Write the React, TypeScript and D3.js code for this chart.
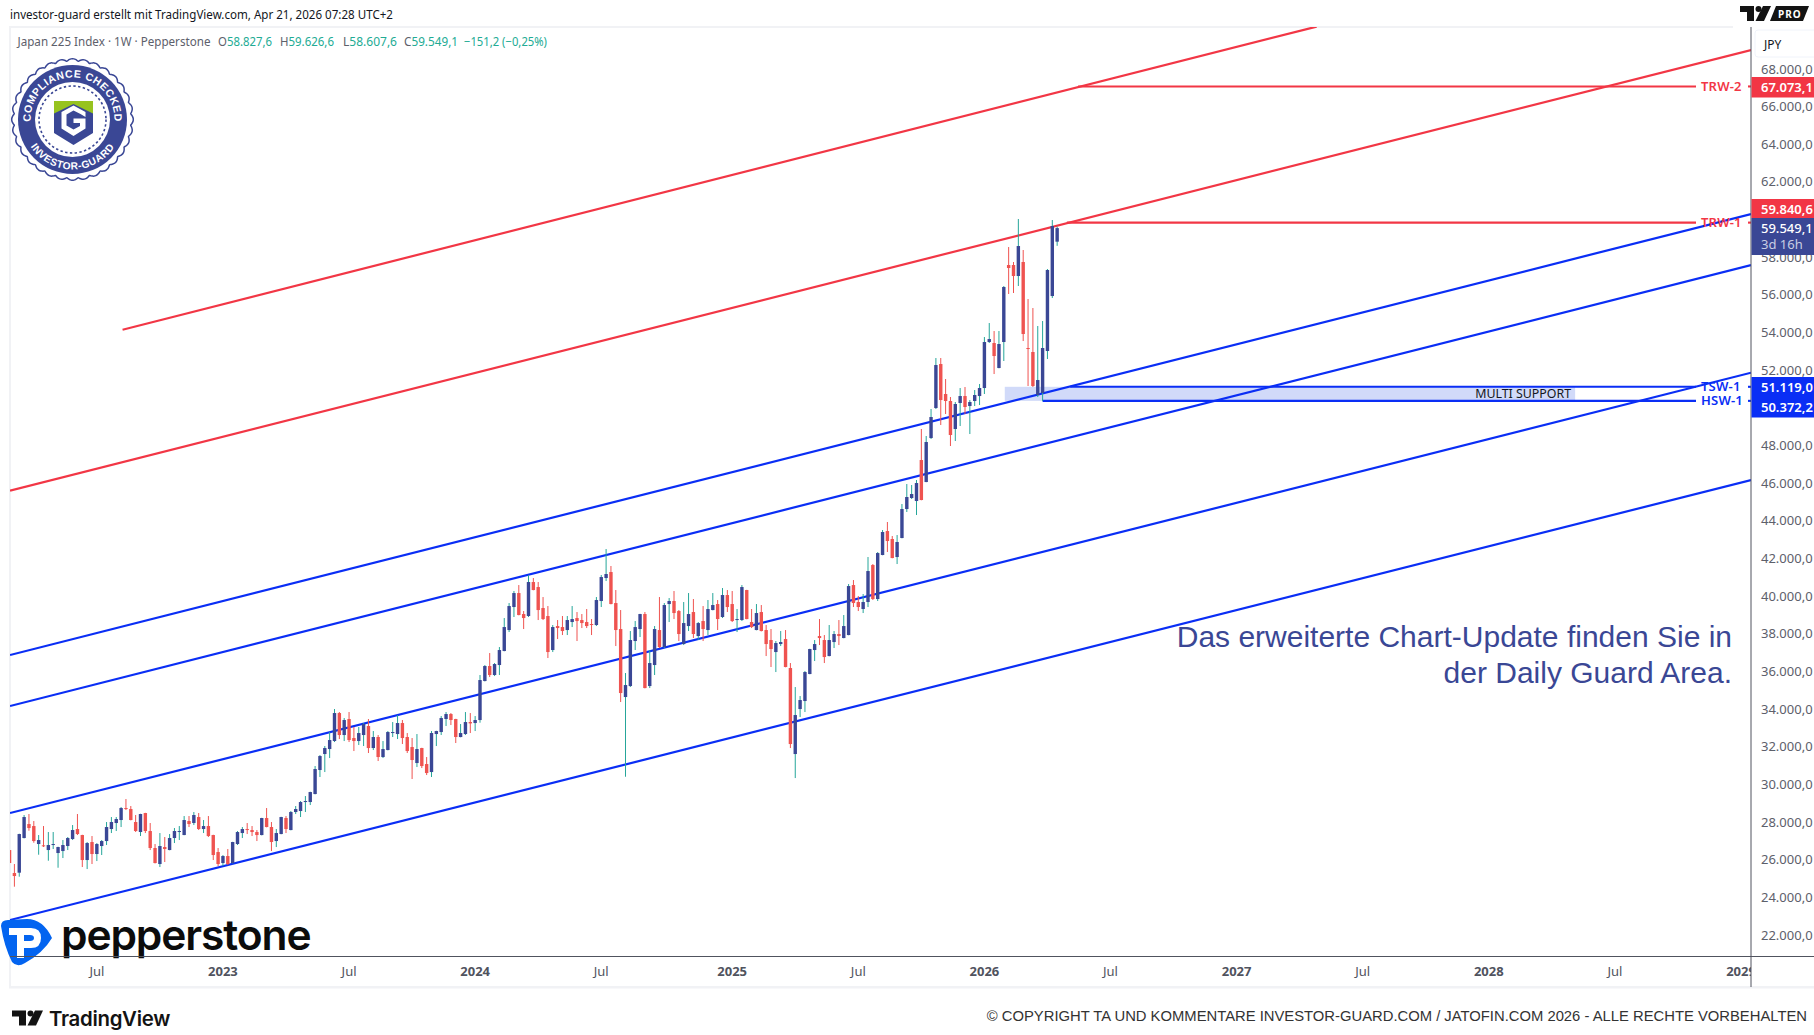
import React from "react";
import * as d3 from "d3";

// ---------- DATA (weekly OHLC, JPY; first bar sits at index -1 and is cut by the pane edge) ----------
const firstBarIndex = -1;
const opens = [26513,
  25292,25310,27151,27894,27788,26832,26763,26513,26779,26354,
  26460,26726,27098,27629,27310,25982,26938,26301,26726,26991,
  27629,27948,28107,28744,28691,28001,27470,28479,27523,26620,
  25770,26673,26513,27151,27470,27310,28054,27948,28266,27629,
  27788,27310,26407,25822,26194,25822,26832,27416,27628,27575,
  27469,27310,28213,27735,26991,27363,28213,27575,28532,28585,
  29063,29063,29488,30763,31612,31878,32303,33790,32622,33472,
  32462,32303,32622,33100,31931,32516,31453,31825,32728,32675,
  33259,32516,31984,31134,31931,31082,30656,32675,32781,33472,
  33737,33472,32515,32675,33312,33259,33418,35490,36287,35809,
  36340,37084,38199,39421,40164,39049,38943,40749,40483,39368,
  38943,37137,38411,38358,38199,38624,38836,38730,38624,38518,
  38465,39740,40961,41280,39633,38252,34640,35224,37615,38252,
  39049,35224,36340,38199,37296,39580,39740,39208,37455,38411,
  39155,37880,38677,38199,39261,39580,38890,40058,39580,38730,
  38730,40324,38624,38199,39155,38199,37668,37030,37455,37721,
  36181,31612,34003,34428,35862,37137,37880,37668,36818,37561,
  37987,37774,37933,40589,39687,39315,39687,41652,39846,42184,
  43458,43034,42077,43087,44627,45211,45052,47230,46061,48398,
  49992,52329,50736,50364,48876,50258,50629,50098,50364,50629,
  51054,53498,53445,52117,53498,57588,57588,57004,57748,53179,
  52967,50683,50789,53020,55941,58827.6];
const closes = [25823,
  25132,27363,28266,27682,26991,27045,26726,26779,26832,26673,
  26779,27151,27576,27363,25982,26885,26301,26832,26991,27735,
  28001,28160,28744,28691,28107,27523,28426,27523,26620,25823,
  26726,26567,27151,27523,27523,28107,27894,28373,27629,27788,
  27257,26248,25770,26194,25769,26938,27469,27628,27575,27469,
  27310,28213,27735,26938,27416,28266,27628,28532,28691,29063,
  29116,29594,30816,31506,31931,32356,33790,32622,33419,32356,
  32303,32728,33206,31931,32516,31453,31878,32781,32781,33259,
  32462,31772,31294,31878,30975,30603,32728,32834,33525,33737,
  33419,32516,32728,33312,33240,33419,35543,36287,35809,36393,
  37137,38358,39474,40164,38996,38836,40749,40324,39261,38783,
  37030,38358,38305,38146,38730,38783,38677,38570,38411,38465,
  39793,41014,41174,39580,38199,34852,35277,37668,38358,39049,
  35118,36446,38252,37296,39527,39740,39102,37987,38570,39049,
  37987,38570,38252,39315,39527,38783,40058,39421,38677,38783,
  40483,38783,38358,39102,38146,37455,37190,37508,37561,36234,
  32143,33684,34481,35968,37190,37455,37774,36765,37668,37987,
  37880,38411,40536,39633,39421,39687,41333,39846,42289,43405,
  42927,42024,42874,44627,45265,45424,46008,45105,48186,49514,
  52276,50417,50364,48558,50205,50629,50045,50311,50683,51054,
  53498,53657,52754,53392,56420,57429,57004,58597,53923,53126,
  51161,51479,53179,57323,59660,59549.1];
const highs = [26513,
  25770,27380,28373,28426,28054,27310,27788,27470,27470,26690,
  27045,27204,27841,28426,27325,26938,27257,26885,27045,28001,
  28266,28266,28798,29223,28851,28373,28440,28490,27948,26832,
  27416,27204,27363,27682,27788,28319,28319,28532,28479,28107,
  28319,27325,26620,26247,26566,26950,27522,27735,27947,27788,
  27575,28225,28744,28000,27628,28280,28319,28585,28850,29116,
  29381,29610,30975,31559,32037,32781,34003,33844,33525,33844,
  33047,33047,33259,33472,32834,32622,32303,32834,33312,33684,
  33419,32728,32462,32675,31945,31453,32834,32850,33631,33844,
  33790,33485,33206,33843,33790,33631,35809,36340,36977,36446,
  37296,38836,39633,40271,40589,39208,41121,40961,40749,39952,
  39474,38465,38730,38943,38943,39474,39155,39049,39315,38783,
  39952,41121,42502,41599,40324,39261,35915,38146,38677,39060,
  39155,37137,38411,39952,39633,39899,40271,39261,39687,40164,
  39846,38624,39474,39793,40164,39793,40430,40324,40271,39315,
  40589,40335,39315,39580,39527,38465,38252,37615,38146,38199,
  36446,35171,34693,36021,37205,37668,38783,37933,38465,38146,
  38730,38996,40643,40855,40005,40111,42077,41705,42343,43512,
  43937,43193,43246,44893,45955,45902,46168,48877,48505,49939,
  52648,52648,51533,50576,50311,51054,51107,50417,50948,51267,
  53763,54507,54082,54082,56473,58544,57748,60032,58385,55782,
  55304,54348,54613,57376,59979,59626.6];
const lows = [25823,
  24566,25096,27130,27539,26901,26264,26673,25945,26567,25573,
  26088,26513,27045,27310,25610,25504,25770,25929,26248,26779,
  27416,27523,27735,28638,28090,27470,27257,27416,26513,25800,
  25610,25876,26500,26885,27045,27300,27735,27841,27576,27416,
  27204,25982,25663,25663,25716,25800,26779,27150,27363,27257,
  26991,27290,27720,26460,26672,27350,27416,27560,28425,28266,
  28532,28903,29470,30391,30656,31400,32250,32409,32303,32250,
  31772,32091,32037,31666,31825,31241,31400,31810,32516,32409,
  32144,31666,30285,30922,30869,30497,30391,32037,32622,33100,
  33153,32197,32500,32622,32728,32834,33277,35470,35702,35755,
  35809,37070,38093,38890,38980,38252,38890,40310,38730,38730,
  36712,37030,37721,37933,37933,38358,37615,38305,38305,37933,
  38411,39421,40802,39565,37349,34374,30406,35171,37137,37827,
  35100,35118,35809,37243,37243,38624,38783,37615,37402,38146,
  37775,37668,37615,37933,39245,38199,38836,39155,38624,38093,
  38677,38770,38305,38185,38125,36818,36234,35968,37349,36220,
  31931,30337,33578,33843,35850,36552,37402,36446,36800,37243,
  37402,37760,37920,39421,39208,39102,39421,39793,39740,42170,
  42343,42010,41705,43070,44468,45158,44308,45090,46050,48345,
  49939,49089,49673,47973,48239,49036,49673,48611,50098,50151,
  50736,53445,51798,52100,52489,56048,56101,56473,53551,51161,
  51107,50576,50364,52595,55835,58607.6];

// trend channels: [barIndex, price] end points
const redChannels: [number, number, number, number][] = [
  [22.3, 54151, 268.5, 70252],
  [-0.9, 45604, 358.06, 69009],
];
const blueChannels: [number, number, number, number][] = [
  [-0.9, 36871, 358.06, 60297],
  [-0.9, 34162, 358.06, 57588],
  [-0.9, 28479, 358.06, 51867],
  [-0.9, 22795, 358.06, 46167],
];
const levelNames = ["TRW-2", "TRW-1", "TSW-1", "HSW-1"];
const levelPrices = [67073.1, 59840.6, 51119.0, 50372.2];
const levelStarts = [219.3, 217, 217.7, 212];
const levelColors = ["#f23645", "#f23645", "#0a2ef5", "#0a2ef5"];

const supportZone = { from: 204.2, to: 321.8, hi: 51119.0, lo: 50372.2 };

// 60.000 and 50.000 lie wholly under the price tags in the reference
const priceTicks = d3.range(22000, 68001, 2000).filter((v) => v !== 60000 && v !== 50000);
const timeLabels = ["Jul","2023","Jul","2024","Jul","2025","Jul","2026","Jul","2027","Jul","2028","Jul","2029"];
const timeIdx = [17,43,69,95,121,148,174,200,226,252,278,304,330,356];

// ---------- LAYOUT ----------
const W = 1814, H = 1035;
const L = 10, R = 1751, T = 27, B = 956.5;
const x = d3.scaleLinear().domain([0, 358]).range([14.4, 14.4 + 358 * 4.85]);
const y = d3.scaleLinear().domain([22000, 68000]).range([935, 69]);

const UI = "'Noto Sans', sans-serif";
const ARIAL = "'Liberation Sans', Arial, sans-serif";
const NAVY = "#3a4795";
const TEAL = "#26a69a";
const RED = "#ef5350";
const fmt = (v: number) => d3.format(",.1f")(v).replace(/,/g, "#").replace(".", ",").replace(/#/g, ".");

const channelLine = d3.line<[number, number]>().x((d) => x(d[0])).y((d) => y(d[1]));

const polar = (r: number, deg: number) => {
  const a = (deg * Math.PI) / 180;
  return `${(r * Math.sin(a)).toFixed(2)} ${(-r * Math.cos(a)).toFixed(2)}`;
};

function Badge() {
  const cx = 72.5, cy = 119.5;
  const scallop = d3.lineRadial<number>()
    .angle((d) => d)
    .radius((d) => 58.5 + 2.3 * Math.abs(Math.cos(d * 16)))
    .curve(d3.curveCardinalClosed);
  const pts = d3.range(0, Math.PI * 2, Math.PI / 128);
  return (
    <g transform={`translate(${cx},${cy})`}>
      <defs>
        <path id="arcTop" d={`M ${polar(42, -130)} A 42 42 0 1 1 ${polar(42, 130)}`} />
        <path id="arcBot" d={`M ${polar(50, -95)} A 50 50 0 0 0 ${polar(50, 95)}`} />
      </defs>
      <path d={scallop(pts) || ""} fill="#fff" stroke={NAVY} strokeWidth={1.5} />
      <circle r={54.5} fill={NAVY} />
      <circle r={37.5} fill="#fff" />
      <circle r={33.5} fill="none" stroke={NAVY} strokeWidth={1.6} strokeDasharray="2.4 2.4" />
      <text fill="#fff" fontFamily={ARIAL} fontWeight={700} fontSize={10.6} letterSpacing={0.55}>
        <textPath href="#arcTop" startOffset="50%" textAnchor="middle">COMPLIANCE CHECKED</textPath>
      </text>
      <text fill="#fff" fontFamily={ARIAL} fontWeight={700} fontSize={10.2} letterSpacing={0.5}>
        <textPath href="#arcBot" startOffset="50%" textAnchor="middle">INVESTOR-GUARD</textPath>
      </text>
      <g transform="translate(1,0)">
        <path d="M-19.5 -18.5 H19.5 V13.5 L0 25.5 L-19.5 13.5 Z" fill={NAVY} />
        <path d="M-19.5 -18.5 H19.5 V-6 L0 -15.5 L-19.5 -6 Z" fill="#97c31f" />
        <path fill="#fff" d="M0 -14 L12 -7.5 V-2.5 L7 -5.5 L0 -9 L-7 -5 V6 L0 10 L6.5 6.5 V3.5 H0 V-1 H12 V9 L0 16.5 L-12 9 V-7.5 Z" />
      </g>
    </g>
  );
}

function TVMark({ tx, ty, s, fill }: { tx: number; ty: number; s: number; fill: string }) {
  return (
    <g transform={`translate(${tx},${ty}) scale(${s})`} fill={fill}>
      <path d="M0 0 H14 V15 H7 V6 H0 Z" />
      <circle cx={18.5} cy={3} r={3} />
      <path d="M23 0 H31 L24 15 H15.5 Z" />
    </g>
  );
}

export default function App() {
  const candles = opens.map((o, k) => ({
    i: k + firstBarIndex, o, c: closes[k], h: highs[k], l: lows[k], up: closes[k] >= o,
  }));
  const legendVals: [string, string, number][] = [
    ["O", "58.827,6", 218], ["H", "59.626,6", 280], ["L", "58.607,6", 343], ["C", "59.549,1", 404],
  ];
  return (
    <svg width={W} height={H} viewBox={`0 0 ${W} ${H}`}
      style={{ position: "fixed", left: 0, top: 0, background: "#fff", display: "block" }}>
      <defs>
        <clipPath id="pane"><rect x={L} y={T} width={R - L} height={B - T} /></clipPath>
        <clipPath id="timeClip"><rect x={L} y={B} width={R - L} height={40} /></clipPath>
      </defs>

      {/* frame bands */}
      <rect x={9} y={26} width={1724} height={2} fill="#f1f2f5" />
      <rect x={9} y={26} width={2} height={962} fill="#f1f2f5" />
      <rect x={9} y={986} width={1805} height={2.5} fill="#f1f2f5" />

      {/* header */}
      <text x={10} y={19} fontFamily={UI} fontSize={12.4} fill="#131722" textLength={383} lengthAdjust="spacingAndGlyphs">
        investor-guard erstellt mit TradingView.com, Apr 21, 2026 07:28 UTC+2
      </text>
      <text x={17.5} y={46} fontFamily={UI} fontSize={12} fill="#5d606b" textLength={193} lengthAdjust="spacingAndGlyphs">
        Japan 225 Index · 1W · Pepperstone
      </text>
      {legendVals.map(([a, b, px]) => (
        <text key={a} x={px} y={46} fontFamily={UI} fontSize={12} fill="#5d606b" textLength={54} lengthAdjust="spacingAndGlyphs">
          {a}<tspan fill="#22ab94">{b}</tspan>
        </text>
      ))}
      <text x={464} y={46} fontFamily={UI} fontSize={12} fill="#22ab94" textLength={83} lengthAdjust="spacingAndGlyphs">−151,2 (−0,25%)</text>

      {/* support zone */}
      <rect x={x(supportZone.from)} y={y(supportZone.hi)} width={x(supportZone.to) - x(supportZone.from)}
        height={y(supportZone.lo) - y(supportZone.hi)} fill="#d1daf9" />
      <text x={x(supportZone.to) - 4} y={(y(supportZone.hi) + y(supportZone.lo)) / 2 + 4.5}
        textAnchor="end" fontFamily={UI} fontSize={12.4} fill="#131722">MULTI SUPPORT</text>

      {/* channels */}
      <g clipPath="url(#pane)" fill="none" strokeWidth={2.2}>
        {redChannels.map((r, k) => (
          <path key={k} d={channelLine([[r[0], r[1]], [r[2], r[3]]]) || ""} stroke="#f23645" />
        ))}
        {blueChannels.map((r, k) => (
          <path key={k} d={channelLine([[r[0], r[1]], [r[2], r[3]]]) || ""} stroke="#0a2ef5" />
        ))}
      </g>

      {/* level lines */}
      {levelNames.map((n, k) => (
        <g key={n}>
          <line x1={x(levelStarts[k])} x2={1696} y1={y(levelPrices[k])} y2={y(levelPrices[k])}
            stroke={levelColors[k]} strokeWidth={2.1} />
          <line x1={1748} x2={R} y1={y(levelPrices[k])} y2={y(levelPrices[k])}
            stroke={levelColors[k]} strokeWidth={2.1} />
          <text x={1701} y={y(levelPrices[k]) + 4.5} fontFamily={UI} fontWeight={600} fontSize={13}
            letterSpacing={0.2} fill={levelColors[k]}>{n}</text>
        </g>
      ))}

      {/* candles */}
      <g clipPath="url(#pane)">
        {candles.map((d) => (
          <g key={d.i}>
            <line x1={x(d.i)} x2={x(d.i)} y1={y(d.h)} y2={y(d.l)} stroke={d.up ? TEAL : RED} strokeWidth={1} />
            <rect x={x(d.i) - 1.7} width={3.4} y={y(Math.max(d.o, d.c))}
              height={Math.max(1, Math.abs(y(d.o) - y(d.c)))} fill={d.up ? NAVY : RED} />
          </g>
        ))}
      </g>

      {/* annotation */}
      <text x={1732} y={647} textAnchor="end" fontFamily={ARIAL} fontSize={30} fill={NAVY}>
        Das erweiterte Chart-Update finden Sie in
      </text>
      <text x={1732} y={683} textAnchor="end" fontFamily={ARIAL} fontSize={30} fill={NAVY}>
        der Daily Guard Area.
      </text>

      <Badge />

      {/* pepperstone mark */}
      <path d="M1 926 Q1 920 8 920 L27 919 Q43 919 52 938 Q43 953 25 963 Q17 968 12 962 Q4 946 1 926 Z" fill="#0364f0" />
      <path fillRule="evenodd" fill="#fff"
        d="M9 928 H31 Q41 928 41 938 Q41 948 31 948 H24 V958 H17 V935 H9 Z M24 935 V941 H30 Q34 941 34 938 Q34 935 30 935 Z" />
      <text x={61} y={950} fontFamily="Inter, 'Noto Sans', sans-serif" fontWeight={600} fontSize={42.5} letterSpacing={-1.1} fill="#0c0c0c">
        pepperstone
      </text>

      {/* axes */}
      <line x1={L} x2={W} y1={B} y2={B} stroke="#50535e" strokeWidth={1} />
      <line x1={R} x2={R} y1={T} y2={987} stroke="#50535e" strokeWidth={1} />

      {priceTicks.map((v) => (
        <text key={v} x={1761} y={y(v) + 4.5} fontFamily={UI} fontSize={13} fill="#5d606b">{fmt(v)}</text>
      ))}

      <g clipPath="url(#timeClip)">
        {timeLabels.map((t, k) => (
          <text key={k} x={x(timeIdx[k])} y={975.5} textAnchor="middle" fontFamily={UI}
            fontSize={13} fontWeight={t === "Jul" ? 400 : 700} fill="#50535e">{t}</text>
        ))}
      </g>

      {/* currency box */}
      <rect x={1755} y={30} width={70} height={27} rx={3} fill="#fff" stroke="#f0f3fa" />
      <text x={1764} y={49} fontFamily={UI} fontSize={12} fill="#131722">JPY</text>

      {/* price tags */}
      <rect x={R + 0.5} y={77} width={W - R} height={20.5} fill="#f23645" />
      <text x={1761} y={91.5} fontFamily={UI} fontWeight={600} fontSize={13} fill="#fff">{fmt(levelPrices[0])}</text>
      <rect x={R + 0.5} y={199} width={W - R} height={19} fill="#f23645" />
      <text x={1761} y={213.5} fontFamily={UI} fontWeight={600} fontSize={13} fill="#fff">{fmt(levelPrices[1])}</text>
      <rect x={R + 0.5} y={218} width={W - R} height={37} fill={NAVY} />
      <text x={1761} y={232.5} fontFamily={UI} fontWeight={500} fontSize={13} fill="#fff">{fmt(closes[closes.length - 1])}</text>
      <text x={1761} y={249} fontFamily={UI} fontSize={13} fill="#c9cde3">3d 16h</text>
      <rect x={R + 0.5} y={377} width={W - R} height={40.5} fill="#0a2ef5" />
      <text x={1761} y={391.5} fontFamily={UI} fontWeight={600} fontSize={13} fill="#fff">{fmt(levelPrices[2])}</text>
      <text x={1761} y={411.5} fontFamily={UI} fontWeight={600} fontSize={13} fill="#fff">{fmt(levelPrices[3])}</text>

      {/* TV PRO mark */}
      <TVMark tx={1740} ty={6} s={1} fill="#131313" />
      <path d="M1776 6 H1809 L1803 21 H1770 Z" fill="#131313" />
      <text x={1778} y={18} fontFamily={UI} fontWeight={700} fontSize={10} letterSpacing={1} fill="#fff">PRO</text>

      {/* footer */}
      <TVMark tx={12} ty={1010.5} s={1} fill="#131313" />
      <text x={49} y={1026} fontFamily="Inter, 'Noto Sans', sans-serif" fontWeight={600} fontSize={20.4} letterSpacing={-0.3} fill="#131313">TradingView</text>
      <text x={1807} y={1021} textAnchor="end" fontFamily={ARIAL} fontSize={14.8} fill="#333">
        © COPYRIGHT TA UND KOMMENTARE INVESTOR-GUARD.COM / JATOFIN.COM 2026 - ALLE RECHTE VORBEHALTEN
      </text>
    </svg>
  );
}
